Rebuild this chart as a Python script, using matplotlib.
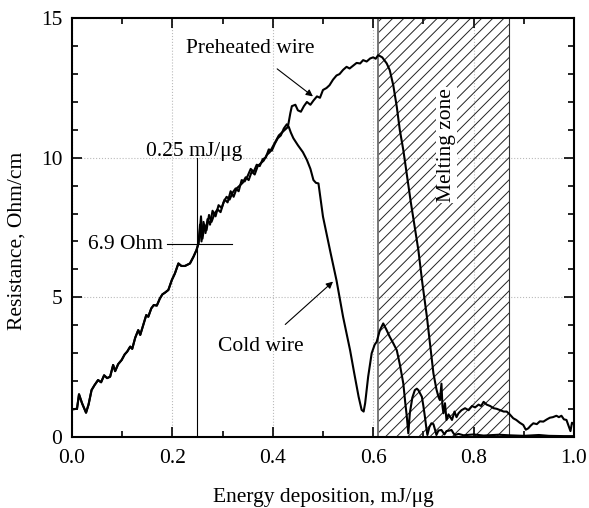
import numpy as np
import matplotlib
matplotlib.use('Agg')
import matplotlib.pyplot as plt
from matplotlib.ticker import MultipleLocator

# shared part of both curves (0 .. 0.25 mJ/ug)
common_x = [0.0, 0.01, 0.014, 0.02, 0.028, 0.033, 0.039, 0.045, 0.052, 0.058, 0.064,
            0.07, 0.076, 0.082, 0.086, 0.092, 0.099, 0.105, 0.11, 0.116, 0.12, 0.126,
            0.132, 0.136, 0.142, 0.148, 0.152, 0.158, 0.163, 0.169, 0.175, 0.18, 0.185,
            0.192, 0.199, 0.205, 0.212, 0.218, 0.225, 0.235, 0.242, 0.248, 0.252]
common_y = [0.98, 1.0, 1.52, 1.2, 0.86, 1.15, 1.67, 1.85, 2.03, 1.95, 2.2,
            2.1, 2.15, 2.57, 2.35, 2.6, 2.75, 2.95, 3.05, 3.23, 3.15, 3.55,
            3.82, 3.65, 4.0, 4.36, 4.3, 4.6, 4.72, 4.7, 4.95, 5.1, 5.16,
            5.26, 5.62, 5.85, 6.21, 6.12, 6.12, 6.21, 6.45, 6.69, 6.93]

preheat_x = [0.255, 0.258, 0.262, 0.266, 0.27, 0.275, 0.28, 0.286, 0.292, 0.298, 0.304,
             0.31, 0.316, 0.322, 0.328, 0.334, 0.34, 0.346, 0.352, 0.358, 0.364, 0.37,
             0.376, 0.382, 0.388, 0.394, 0.4, 0.406, 0.412, 0.418, 0.424, 0.43, 0.435,
             0.438, 0.445, 0.45, 0.456, 0.462, 0.468, 0.475, 0.481, 0.488, 0.494, 0.5,
             0.507, 0.513, 0.52, 0.527, 0.533, 0.54, 0.547, 0.553, 0.56, 0.567, 0.574,
             0.58, 0.587, 0.594, 0.6, 0.605, 0.61, 0.618, 0.627, 0.633, 0.64, 0.647,
             0.653, 0.66, 0.667, 0.675, 0.683, 0.69, 0.698, 0.707, 0.714, 0.72, 0.726,
             0.73, 0.733, 0.736, 0.738, 0.74, 0.743, 0.746, 0.75, 0.753, 0.757, 0.762,
             0.766, 0.77, 0.776, 0.783, 0.79, 0.797, 0.803, 0.81, 0.815, 0.82, 0.826,
             0.833, 0.84, 0.846, 0.853, 0.86, 0.866, 0.872, 0.879, 0.885, 0.892, 0.899,
             0.904, 0.909, 0.914, 0.919, 0.926, 0.932, 0.939, 0.946, 0.952, 0.958, 0.965,
             0.97, 0.975, 0.98, 0.985, 0.99, 0.993, 0.996, 1.0]
preheat_y = [7.6, 7.0, 7.7, 7.3, 7.8, 7.6, 8.1, 7.9, 8.3, 8.2, 8.5,
             8.4, 8.8, 8.6, 8.9, 9.0, 9.1, 9.3, 9.2, 9.5, 9.4, 9.7,
             9.8, 9.9, 10.1, 10.2, 10.4, 10.6, 10.8, 10.9, 11.0, 11.1, 11.6,
             11.85, 11.9, 11.7, 11.65, 11.85, 12.0, 11.9, 12.05, 12.2, 12.15, 12.43,
             12.5, 12.6, 12.8, 12.95, 13.0, 13.15, 13.26, 13.2, 13.3, 13.4, 13.38,
             13.5, 13.45, 13.56, 13.6, 13.55, 13.68, 13.6, 13.38, 13.14, 12.6, 11.83,
             11.0, 10.28, 9.4, 8.4, 7.5, 6.69, 5.5, 4.3, 3.2, 2.27, 1.7,
             1.43, 1.31, 1.9, 1.1, 0.84, 1.2, 0.6, 0.8, 0.72, 0.6, 0.9,
             0.7, 0.84, 0.95, 1.02, 0.95, 1.1, 1.05, 1.15, 1.1, 1.25, 1.15,
             1.1, 1.02, 1.0, 0.95, 0.9, 0.9, 0.8, 0.66, 0.6, 0.5, 0.42,
             0.25, 0.3, 0.4, 0.48, 0.45, 0.55, 0.54, 0.62, 0.68, 0.7, 0.75,
             0.7, 0.75, 0.62, 0.6, 0.35, 0.2, 0.5, 0.45]

cold_x = [0.254, 0.257, 0.26, 0.264, 0.268, 0.273, 0.278, 0.284, 0.29, 0.296, 0.302,
          0.308, 0.314, 0.32, 0.326, 0.332, 0.338, 0.344, 0.35, 0.356, 0.362, 0.368,
          0.374, 0.38, 0.386, 0.392, 0.398, 0.404, 0.41, 0.416, 0.422, 0.428, 0.432,
          0.436, 0.441, 0.45, 0.46, 0.468, 0.475, 0.481, 0.486, 0.491, 0.5, 0.507,
          0.515, 0.527, 0.54, 0.554, 0.562, 0.571, 0.577, 0.581, 0.584, 0.59, 0.597,
          0.603, 0.607, 0.613, 0.62, 0.626, 0.633, 0.64, 0.647, 0.653, 0.66, 0.664,
          0.667, 0.67, 0.673, 0.678, 0.683, 0.687, 0.69, 0.697, 0.7, 0.703, 0.706,
          0.708, 0.712, 0.716, 0.72, 0.724, 0.726, 0.73, 0.736, 0.742, 0.746, 0.752,
          0.756, 0.76, 0.763, 0.77, 0.78, 0.8, 0.82, 0.85, 0.87, 0.9, 0.93,
          0.95, 0.98, 1.0]
cold_y = [7.2, 7.9, 7.1, 7.6, 7.4, 7.95, 7.7, 8.0, 8.15, 8.05, 8.4,
          8.6, 8.5, 8.75, 8.9, 8.8, 9.2, 9.15, 9.35, 9.6, 9.5, 9.75,
          9.7, 9.95, 10.0, 10.3, 10.25, 10.5, 10.7, 10.8, 11.05, 11.2, 11.1,
          10.9, 10.7, 10.45, 10.2, 9.92, 9.6, 9.2, 9.1, 9.08, 7.89, 7.29,
          6.6, 5.6, 4.3, 3.1, 2.3, 1.43, 0.96, 0.9, 1.2, 2.15, 2.99,
          3.3, 3.4, 3.8, 4.06, 3.85, 3.58, 3.35, 3.1, 2.6, 1.91, 1.2,
          0.72, 0.12, 0.84, 1.4, 1.67, 1.72, 1.67, 1.43, 1.1, 0.72, 0.3,
          0.06, 0.35, 0.48, 0.45, 0.2, 0.06, 0.22, 0.24, 0.08, 0.2, 0.22,
          0.24, 0.12, 0.06, 0.1, 0.05, 0.08, 0.04, 0.07, 0.05, 0.03, 0.06,
          0.03, 0.02, 0.02]

melt_zone = (0.61, 0.87)
marker_x, marker_y = 0.25, 6.9

plt.rcParams['font.family'] = ['Liberation Serif', 'DejaVu Serif']
plt.rcParams['hatch.linewidth'] = 0.7
plt.rcParams['hatch.color'] = '#222222'

fig = plt.figure(figsize=(5.89, 5.08), dpi=100)
ax = fig.add_axes([0.1222, 0.1404, 0.8523, 0.8236])

ax.axvspan(*melt_zone, facecolor='none', edgecolor='#222222', hatch='///', linewidth=0)
ax.axvline(melt_zone[0], color='#777777', lw=1.4)
ax.axvline(melt_zone[1], color='#333333', lw=0.8)

ax.plot(common_x + preheat_x, common_y + preheat_y, color='black', lw=1.5)
ax.plot(common_x + cold_x, common_y + cold_y, color='black', lw=1.5)

ax.plot([marker_x, marker_x], [0, 10], color='black', lw=0.8)
ax.plot([0.189, 0.319], [marker_y, marker_y], color='black', lw=0.8)

fs = 15.5
ax.text(0.244, 10.05, '0.25 mJ/μg', ha='center', va='baseline', fontsize=fs)
ax.text(0.181, 6.9, '6.9 Ohm', ha='right', va='center', fontsize=fs)
ax.text(0.746, 10.45, 'Melting zone', rotation=90, ha='center', va='center', fontsize=fs,
        bbox=dict(facecolor='white', edgecolor='none', pad=1))

ax.annotate('Preheated wire', xy=(0.48, 12.2), xytext=(0.355, 13.93),
            ha='center', va='center', fontsize=fs,
            arrowprops=dict(arrowstyle='-|>', color='black', lw=0.8,
                            mutation_scale=10, shrinkA=10, shrinkB=0))
ax.annotate('Cold wire', xy=(0.52, 5.56), xytext=(0.377, 3.25),
            ha='center', va='center', fontsize=fs,
            arrowprops=dict(arrowstyle='-|>', color='black', lw=0.8,
                            mutation_scale=10, shrinkA=10, shrinkB=0))

ax.set_xlim(0, 1.0)
ax.set_ylim(0, 15)
ax.xaxis.set_major_locator(MultipleLocator(0.2))
ax.xaxis.set_minor_locator(MultipleLocator(0.1))
ax.yaxis.set_major_locator(MultipleLocator(5))
ax.yaxis.set_minor_locator(MultipleLocator(1))
ax.xaxis.set_major_formatter(plt.FuncFormatter(lambda v, p: f'{v:.1f}'))
ax.tick_params(which='both', direction='in', top=True, right=True, labelsize=fs, width=1.2)
ax.tick_params(which='major', length=7)
ax.tick_params(axis='x', which='major', pad=9)
ax.tick_params(axis='y', which='major', pad=7)
ax.tick_params(which='minor', length=4)
ax.grid(True, which='major', linestyle=':', color='#bbbbbb', lw=0.8)
ax.set_axisbelow(True)
for s in ax.spines.values():
    s.set_linewidth(1.5)

ax.set_xlabel('Energy deposition, mJ/μg', fontsize=fs, labelpad=14)
ax.set_ylabel('Resistance, Ohm/cm', fontsize=fs)
ax.yaxis.set_label_coords(-0.09, 0.468)

fig.savefig('out.png', dpi=100)
